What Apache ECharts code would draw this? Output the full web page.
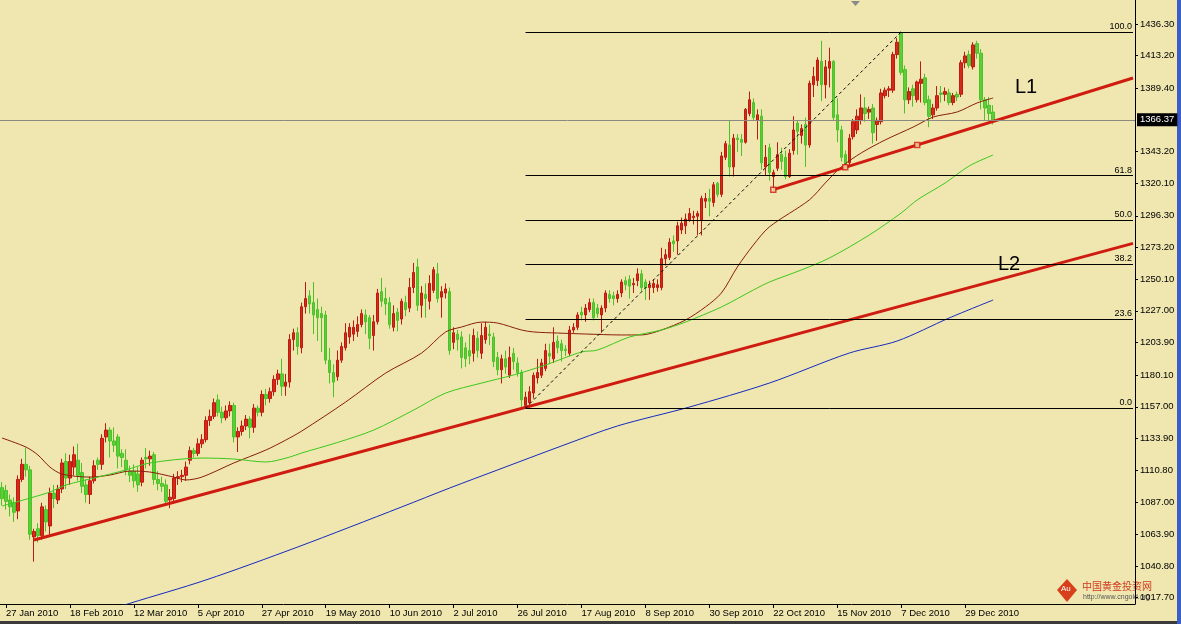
<!DOCTYPE html>
<html><head><meta charset="utf-8">
<script src="https://cdn.jsdelivr.net/npm/echarts@6/dist/echarts.min.js"></script>
<style>html,body{margin:0;padding:0;background:#EFE7AF;overflow:hidden}#c{width:1181px;height:624px}</style>
</head><body><div id="c"></div>
<script>
// ---- DATA ----
const tickLabels = ['27 Jan 2010','18 Feb 2010','12 Mar 2010','5 Apr 2010','27 Apr 2010','19 May 2010','10 Jun 2010','2 Jul 2010','26 Jul 2010','17 Aug 2010','8 Sep 2010','30 Sep 2010','22 Oct 2010','15 Nov 2010','7 Dec 2010','29 Dec 2010'];
const yTickValues = [1017.70,1040.80,1063.90,1087.00,1110.80,1133.90,1157.00,1180.10,1203.90,1227.00,1250.10,1273.20,1296.30,1320.10,1343.20,1389.40,1413.20,1436.30];
const currentPrice = 1366.37;
// [open, close, low, high], one row per trading day from 26 Jan 2010
const candles = [
[1098,1090,1085,1102],[1096,1088,1082,1100],[1089,1084,1077,1093],[1087,1080,1073,1091],[1081,1104,1075,1107],
[1104,1115,1102,1119],[1115,1111,1106,1127],[1111,1064,1060,1114],[1062,1066,1044,1068],[1068,1063,1058,1072],
[1063,1084,1060,1087],[1082,1073,1066,1085],[1070,1094,1064,1098],[1094,1090,1083,1100],[1089,1097,1086,1100],
[1097,1116,1094,1119],[1117,1105,1097,1123],[1105,1117,1100,1122],[1113,1122,1107,1128],[1118,1107,1103,1130],
[1109,1099,1094,1116],[1100,1093,1087,1104],[1093,1103,1086,1106],[1103,1114,1101,1118],[1118,1115,1111,1120],
[1115,1134,1111,1137],[1135,1140,1131,1145],[1140,1132,1120,1142],[1132,1129,1124,1142],[1135,1121,1112,1137],
[1123,1120,1113,1126],[1118,1111,1107,1126],[1110,1107,1102,1114],[1110,1103,1098,1115],[1108,1100,1095,1113],
[1102,1118,1099,1120],[1120,1119,1112,1127],[1119,1121,1114,1125],[1122,1104,1100,1124],[1104,1101,1096,1110],
[1101,1099,1095,1106],[1100,1088,1085,1104],[1089,1091,1083,1097],[1090,1105,1087,1108],[1105,1106,1100,1110],
[1106,1107,1102,1111],[1107,1113,1103,1117],[1118,1125,1115,1128],[1125,1123,1120,1127],[1123,1130,1121,1134],
[1130,1133,1127,1137],[1133,1147,1131,1150],[1147,1150,1143,1155],[1150,1160,1148,1163],[1162,1153,1150,1166],
[1153,1149,1145,1157],[1149,1154,1147,1158],[1154,1158,1150,1161],[1158,1135,1131,1160],[1135,1139,1124,1142],
[1139,1143,1136,1147],[1143,1148,1140,1151],[1148,1142,1134,1150],[1142,1156,1138,1159],[1156,1153,1150,1158],
[1153,1166,1150,1169],[1166,1163,1158,1170],[1163,1168,1160,1171],[1168,1177,1165,1180],[1177,1181,1173,1184],
[1181,1172,1165,1192],[1172,1175,1165,1181],[1175,1206,1171,1210],[1206,1211,1198,1214],[1211,1201,1195,1215],
[1200,1230,1196,1233],[1230,1236,1225,1248],[1238,1232,1225,1242],[1233,1224,1210,1248],[1228,1222,1205,1236],
[1225,1222,1197,1230],[1224,1191,1188,1227],[1191,1182,1174,1200],[1182,1175,1164,1188],[1179,1191,1176,1198],
[1191,1201,1189,1204],[1200,1211,1198,1218],[1208,1215,1203,1218],[1210,1215,1205,1220],[1212,1217,1208,1223],
[1217,1225,1215,1228],[1224,1219,1210,1228],[1222,1207,1199,1224],[1209,1219,1198,1224],[1219,1240,1217,1243],
[1241,1234,1230,1251],[1236,1232,1224,1244],[1233,1217,1214,1237],[1215,1225,1212,1231],[1226,1220,1212,1229],
[1221,1234,1217,1236],[1233,1228,1223,1238],[1229,1244,1226,1251],[1244,1255,1240,1262],[1259,1231,1227,1265],
[1231,1240,1222,1245],[1239,1236,1222,1247],[1234,1247,1228,1253],[1242,1257,1240,1259],[1254,1236,1233,1262],
[1237,1241,1222,1245],[1240,1243,1236,1247],[1241,1198,1195,1244],[1204,1211,1199,1215],[1210,1206,1198,1213],
[1208,1193,1185,1212],[1200,1192,1186,1204],[1198,1194,1188,1210],[1196,1209,1190,1214],[1207,1198,1193,1212],
[1196,1209,1192,1218],[1206,1215,1203,1219],[1210,1209,1202,1217],[1208,1190,1186,1211],[1193,1184,1180,1197],
[1184,1192,1174,1195],[1192,1186,1181,1198],[1180,1193,1178,1201],[1196,1190,1184,1200],[1189,1182,1179,1193],
[1182,1162,1157,1184],[1158,1164,1156,1168],[1160,1168,1158,1172],[1167,1180,1163,1182],[1178,1182,1174,1192],
[1180,1189,1178,1192],[1185,1198,1183,1203],[1196,1194,1188,1203],[1192,1204,1189,1215],[1205,1200,1196,1209],
[1203,1198,1190,1206],[1199,1198,1194,1202],[1196,1213,1194,1216],[1213,1215,1211,1218],[1215,1224,1213,1226],
[1226,1224,1220,1230],[1224,1229,1219,1232],[1228,1233,1226,1236],[1233,1222,1220,1236],[1229,1225,1222,1232],
[1224,1229,1211,1231],[1229,1240,1226,1242],[1239,1236,1233,1242],[1238,1236,1231,1241],[1236,1239,1233,1242],
[1240,1248,1237,1250],[1249,1246,1242,1252],[1250,1245,1236,1253],[1246,1247,1240,1251],[1249,1254,1245,1258],
[1254,1244,1241,1257],[1248,1244,1235,1250],[1244,1246,1235,1249],[1244,1247,1240,1250],[1244,1246,1241,1250],
[1244,1265,1242,1273],[1265,1268,1260,1272],[1266,1277,1264,1280],[1278,1276,1270,1282],[1278,1289,1268,1292],
[1286,1291,1283,1295],[1289,1294,1283,1298],[1293,1298,1292,1302],[1295,1296,1290,1300],[1296,1298,1282,1300],
[1293,1309,1282,1311],[1307,1309,1302,1313],[1309,1307,1296,1316],[1306,1319,1303,1321],[1320,1312,1310,1321],
[1312,1340,1310,1343],[1339,1349,1337,1351],[1348,1332,1325,1366],[1332,1353,1325,1356],[1353,1352,1343,1356],
[1352,1350,1340,1356],[1350,1374,1349,1375],[1371,1381,1369,1387],[1379,1368,1366,1382],[1366,1370,1352,1374],
[1369,1335,1330,1374],[1332,1339,1326,1348],[1346,1328,1322,1349],[1325,1328,1315,1330],[1331,1341,1329,1350],
[1341,1336,1330,1346],[1339,1325,1323,1344],[1325,1342,1324,1345],[1344,1359,1341,1369],[1364,1358,1341,1366],
[1355,1360,1349,1363],[1363,1348,1332,1368],[1348,1393,1346,1395],[1392,1398,1383,1405],[1395,1410,1391,1412],
[1409,1392,1380,1424],[1392,1405,1382,1410],[1404,1409,1390,1419],[1409,1368,1366,1410],[1370,1359,1350,1382],
[1359,1339,1336,1362],[1341,1334,1330,1344],[1335,1353,1333,1356],[1354,1365,1352,1367],[1359,1369,1356,1374],
[1366,1375,1363,1385],[1375,1371,1365,1383],[1372,1374,1367,1376],[1375,1357,1349,1378],[1363,1366,1351,1368],
[1365,1386,1363,1389],[1384,1388,1382,1390],[1388,1389,1383,1391],[1388,1414,1386,1416],[1414,1423,1411,1426],
[1430,1401,1399,1431],[1403,1381,1371,1406],[1381,1387,1378,1390],[1389,1384,1376,1392],[1381,1394,1379,1395],
[1393,1396,1379,1409],[1397,1379,1377,1400],[1381,1369,1361,1384],[1370,1375,1367,1378],[1375,1384,1373,1391],
[1386,1385,1379,1391],[1385,1387,1380,1390],[1386,1379,1377,1389],[1379,1384,1377,1386],[1385,1383,1380,1387],
[1385,1408,1383,1410],[1408,1413,1404,1416],[1414,1406,1404,1417],[1405,1421,1403,1423],[1422,1415,1411,1424],
[1415,1381,1374,1418],[1381,1375,1366,1383],[1377,1371,1366,1383],[1372,1366.37,1363,1377]
];
// moving averages: [bar index, value]
const maBrown = [[0,1134.2],[6,1127.6],[9,1121.8],[12,1113.0],[15,1107.9],[22,1105.7],[27,1107.2],[32,1110.1],[37,1109.4],[43,1105.7],[46,1103.6],[50,1105.7],[58,1116.0],[66,1125.4],[71,1132.7],[75,1139.3],[86,1160.5],[96,1181.6],[105,1196.2],[111,1211.6],[115,1215.2],[120,1218.8],[124,1218.1],[130,1213.0],[133,1211.6],[139,1210.8],[146,1210.1],[155,1209.4],[160,1209.4],[165,1213.0],[171,1220.3],[176,1229.8],[180,1240.0],[184,1259.0],[188,1275.0],[192,1288.2],[202,1307.9],[206,1320.3],[210,1332.0],[215,1342.2],[221,1351.7],[228,1361.1],[233,1368.4],[239,1372.1],[244,1378.7],[248,1382.3]];
const maGreen = [[0,1084.6],[8,1091.2],[12,1094.8],[16,1099.9],[24,1105.7],[31,1110.9],[37,1116.0],[50,1119.6],[58,1118.9],[66,1116.7],[72,1120.3],[75,1123.3],[84,1131.0],[93,1140.0],[103,1154.6],[111,1167.0],[120,1174.3],[128,1180.2],[136,1187.5],[145,1197.0],[149,1198.4],[157,1207.9],[165,1213.0],[171,1218.8],[180,1229.8],[188,1242.2],[192,1248.0],[200,1256.8],[207,1265.5],[217,1282.3],[225,1298.4],[229,1307.9],[236,1320.3],[242,1332.7],[248,1340.7]];
const maBlue = [[26,1008.0],[32,1013.6],[51,1030.6],[74,1054.7],[100,1083.9],[112,1097.7],[124,1110.9],[140,1128.4],[154,1143.0],[172,1156.8],[192,1174.3],[212,1196.2],[224,1205.0],[237,1221.8],[248,1234.9]];
const trendL1 = [[193,1315.4],[283,1396.9]];
const trendL1Anchors = [[193,1315.4],[211,1331.7],[229,1348.0]];
const trendL2 = [[8,1059.8],[283,1276.2]];
const fibLow = 1156.1, fibHigh = 1430.5;
const fibLevels = [0.0, 23.6, 38.2, 50.0, 61.8, 100.0];
const fibLowBar = 131, fibHighBar = 225, fibEndBar = 283;

// ---- calendar of weekdays (category axis) ----
const months = ['Jan','Feb','Mar','Apr','May','Jun','Jul','Aug','Sep','Oct','Nov','Dec'];
const categories = [];
for (let d = new Date(Date.UTC(2010,0,26)); categories.length < 284; d.setUTCDate(d.getUTCDate()+1)) {
  const wd = d.getUTCDay();
  if (wd === 0 || wd === 6) continue;
  categories.push(d.getUTCDate() + ' ' + months[d.getUTCMonth()] + ' ' + d.getUTCFullYear());
}

const FONT = "'Liberation Sans',Arial,sans-serif";
const BG = '#EFE7AF';
const UP = '#d42a1c', DOWN = '#5ccf38', TREND = '#d01c10';

const fibMarks = fibLevels.map(l => {
  const v = fibLow + (fibHigh - fibLow) * l / 100;
  return [
    {coord: [fibLowBar, v], lineStyle: {color: '#000', width: 1, type: 'solid'},
     label: {show: true, position: 'insideEndTop', formatter: l.toFixed(1), color: '#000', fontSize: 9, fontFamily: FONT, distance: 1}},
    {coord: [fibEndBar, v]}
  ];
});

const chart = echarts.init(document.getElementById('c'), null, {renderer: 'canvas'});
chart.setOption({
  animation: false,
  backgroundColor: BG,
  grid: {left: 0, right: 46, top: 0, bottom: 20, containLabel: false},
  xAxis: {
    type: 'category', data: categories, boundaryGap: true,
    axisLine: {show: true, lineStyle: {color: '#000', width: 1}},
    axisTick: {show: true, alignWithLabel: true, length: 4, lineStyle: {color: '#000'},
      interval: (i, v) => tickLabels.includes(v)},
    axisLabel: {interval: (i, v) => tickLabels.includes(v), color: '#000', fontSize: 9.5, fontFamily: FONT, align: 'left', margin: 4},
    splitLine: {show: false}
  },
  yAxis: {
    type: 'value', position: 'right', min: 1013.1, max: 1453.8, scale: true,
    splitLine: {show: false},
    axisLine: {show: true, lineStyle: {color: '#000', width: 1}},
    axisTick: {show: true, length: 3, lineStyle: {color: '#000'}, customValues: yTickValues},
    axisLabel: {customValues: yTickValues, formatter: v => v.toFixed(2), color: '#000', fontSize: 9.5, fontFamily: FONT, margin: 5}
  },
  series: [
    {
      type: 'candlestick', data: candles, barWidth: 3,
      itemStyle: {color: UP, color0: DOWN, borderColor: '#c01a10', borderColor0: '#4cc22a', borderWidth: 1},
      markLine: {
        silent: true, symbol: ['none', 'none'], animation: false,
        data: [
          {yAxis: currentPrice, lineStyle: {color: '#8a8a80', width: 1, type: 'solid'},
           label: {show: true, position: 'end', formatter: currentPrice.toFixed(2), color: '#fff', backgroundColor: '#000', padding: [2, 3, 1, 3], fontSize: 9.5, fontFamily: FONT, distance: 2}},
          ...fibMarks,
          [{coord: [fibLowBar, fibLow], lineStyle: {color: '#000', width: 1, type: [3, 3]}, label: {show: false}},
           {coord: [fibHighBar, fibHigh]}]
        ]
      }
    },
    {type: 'line', data: maBrown, smooth: 0.3, showSymbol: false, lineStyle: {color: '#8a1e08', width: 1}, z: 3},
    {type: 'line', data: maGreen, smooth: 0.3, showSymbol: false, lineStyle: {color: '#3cc81e', width: 1}, z: 3},
    {type: 'line', data: maBlue, smooth: 0.3, showSymbol: false, lineStyle: {color: '#1428c0', width: 1}, z: 3},
    {type: 'line', data: trendL2, showSymbol: false, lineStyle: {color: TREND, width: 3}, z: 4},
    {type: 'line', data: trendL1, showSymbol: false, lineStyle: {color: TREND, width: 3}, z: 4},
    {type: 'scatter', data: trendL1Anchors, symbol: 'rect', symbolSize: 5, itemStyle: {color: BG, borderColor: TREND, borderWidth: 1.5}, z: 5}
  ],
  graphic: [
    {type: 'text', left: 1015, top: 77, style: {text: 'L1', fontSize: 20, fontFamily: FONT, fill: '#000'}},
    {type: 'text', left: 998, top: 254, style: {text: 'L2', fontSize: 20, fontFamily: FONT, fill: '#000'}},
    {type: 'polygon', shape: {points: [[851, 1], [860, 1], [855.5, 6]]}, style: {fill: '#8a8a8a'}},
    {type: 'polygon', shape: {points: [[1067, 579], [1077, 590], [1067, 602], [1057, 590]]}, style: {fill: '#d8401c'}},
    {type: 'text', left: 1061, top: 585, style: {text: 'Au', fontSize: 8, fontFamily: FONT, fill: '#fff'}},
    {type: 'text', left: 1082, top: 581, style: {text: '中国黄金投资网', fontSize: 10, fontFamily: "'Noto Sans CJK SC',sans-serif", fill: '#d03a20'}},
    {type: 'text', left: 1083, top: 594, style: {text: 'http://www.cngold.org', fontSize: 7, fontFamily: FONT, fill: '#555'}},
    {type: 'rect', shape: {x: 0, y: 621, width: 1181, height: 3}, style: {fill: '#3a3a3a'}},
    {type: 'rect', shape: {x: 1177, y: 0, width: 4, height: 624}, style: {fill: '#3a5ec8'}}
  ]
});
</script>
</body></html>
